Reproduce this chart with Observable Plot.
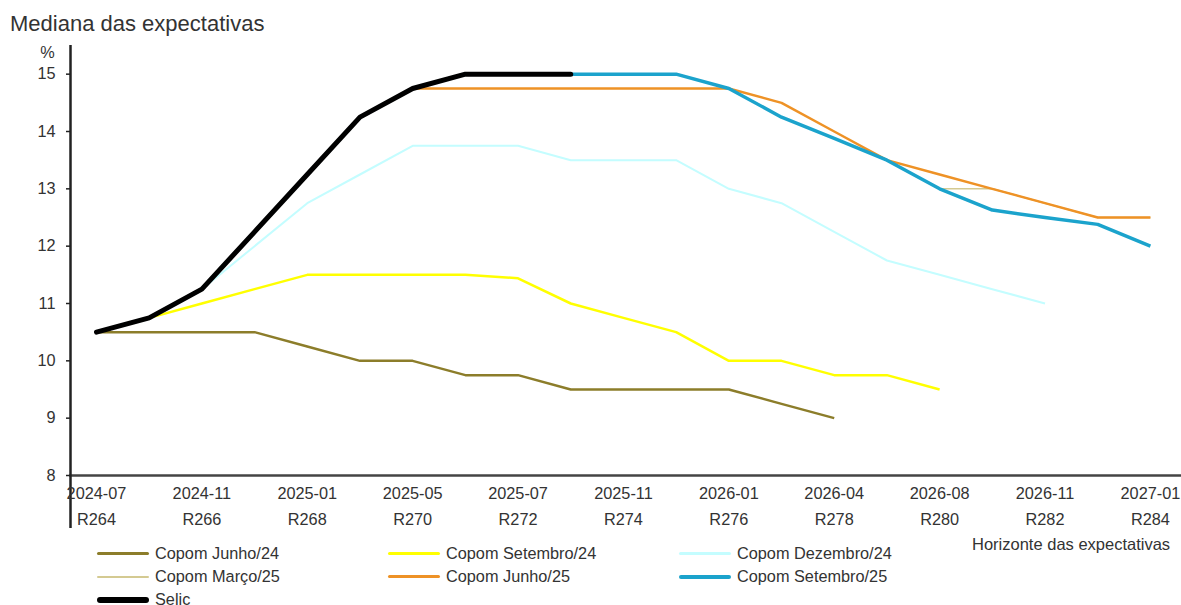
<!DOCTYPE html>
<html><head><meta charset="utf-8">
<script src="https://cdn.jsdelivr.net/npm/d3@7"></script>
<script src="https://cdn.jsdelivr.net/npm/@observablehq/plot@0.6"></script>
<style>
body{margin:0;background:#fff;font-family:"Liberation Sans",Arial,sans-serif;color:#333;}
#wrap{position:relative;width:1181px;height:605px;overflow:hidden;background:#fff;}
#title{position:absolute;left:10px;top:13px;font-size:22px;line-height:1;color:#333;}
#chart{position:absolute;left:0;top:40px;}
#xlabel{position:absolute;left:972px;top:535px;font-size:16.5px;line-height:1.2;color:#333;}
#legend{position:absolute;left:97px;top:542px;display:grid;grid-template-columns:repeat(3,291px);grid-auto-rows:23px;font-size:16.3px;color:#333;}
.item{display:flex;align-items:center;}
.sw{width:52px;margin-right:6px;flex:none;}
</style></head><body>
<div id="wrap">
<div id="title">Mediana das expectativas</div>
<div id="chart"></div>
<div id="xlabel">Horizonte das expectativas</div>
<div id="legend"></div>
</div>
<script>
// Copom meetings (x categories) and tick labels
const meetings = [264,265,266,267,268,269,270,271,272,273,274,275,276,277,278,279,280,281,282,283,284];
const tickMeetings = [264,266,268,270,272,274,276,278,280,282,284];
const tickDates = ["2024-07","2024-11","2025-01","2025-05","2025-07","2025-11","2026-01","2026-04","2026-08","2026-11","2027-01"];
const yTicks = [8,9,10,11,12,13,14,15];

// Series values (% a.a.), starting at R264
const junho24     = [10.5,10.5,10.5,10.5,10.25,10.0,10.0,9.75,9.75,9.5,9.5,9.5,9.5,9.25,9.0];
const setembro24  = [10.5,10.75,11.0,11.25,11.5,11.5,11.5,11.5,11.44,11.0,10.75,10.5,10.0,10.0,9.75,9.75,9.5];
const dezembro24  = [10.5,10.75,11.25,12.0,12.75,13.25,13.75,13.75,13.75,13.5,13.5,13.5,13.0,12.75,12.25,11.75,11.5,11.25,11.0];
const marco25     = [10.5,10.75,11.25,12.25,13.25,14.25,14.75,15,15,15,15,15,14.75,14.25,13.88,13.5,13.0,13.0,12.75,12.5,12.5];
const junho25     = [10.5,10.75,11.25,12.25,13.25,14.25,14.75,14.75,14.75,14.75,14.75,14.75,14.75,14.5,14.0,13.5,13.25,13.0,12.75,12.5,12.5];
const setembro25  = [10.5,10.75,11.25,12.25,13.25,14.25,14.75,15,15,15,15,15,14.75,14.25,13.88,13.5,13.0,12.63,12.5,12.38,12.0];
const selic       = [10.5,10.75,11.25,12.25,13.25,14.25,14.75,15,15,15];

const seriesNames  = ["Copom Junho/24","Copom Setembro/24","Copom Dezembro/24","Copom Março/25","Copom Junho/25","Copom Setembro/25","Selic"];
const seriesValues = [junho24,setembro24,dezembro24,marco25,junho25,setembro25,selic];
const seriesColors = ["#8C7D2A","#FFFF00","#C4FDFF","#D4CA92","#EE9226","#1BA3CC","#000000"];
const seriesWidths = [2.5,2.5,2,1.5,2.5,3.5,5];
const legendWidths = [3,3,3,2,3,4,6];

const xDomain = [263.507, 284.59];
const yDomain = [8, 15.5];

const lineMarks = seriesNames.map((name, k) => {
  const data = seriesValues[k].map((v, i) => ({series: name, meeting: meetings[i], value: v}));
  return Plot.line(data, {x: "meeting", y: "value", stroke: seriesColors[k], strokeWidth: seriesWidths[k], strokeLinejoin: "round", strokeLinecap: k === 6 ? "round" : "butt"});
});

const chart = Plot.plot({
  width: 1181, height: 495,
  marginLeft: 70, marginRight: 0, marginTop: 5, marginBottom: 60,
  x: {domain: xDomain},
  y: {domain: yDomain},
  style: {fontFamily: '"Liberation Sans", Arial, sans-serif', fontSize: "16.3px", color: "#333", background: "#fff", overflow: "visible"},
  marks: [
    ...lineMarks,
    Plot.frame({anchor: "bottom", stroke: "#444", strokeWidth: 2.5}),
    Plot.ruleX([xDomain[0]], {y1: yDomain[1], y2: yDomain[0], insetBottom: -53, stroke: "#222", strokeWidth: 2.5}),
    Plot.axisY({ticks: yTicks, tickSize: 4, tickPadding: 11, label: null, stroke: "#222", strokeWidth: 1.5}),
    Plot.axisX({ticks: tickMeetings, tickSize: 0, tickPadding: 12, label: null, tickFormat: d => tickDates[tickMeetings.indexOf(d)]}),
    Plot.axisX({ticks: tickMeetings, tickSize: 0, tickPadding: 38, label: null, tickFormat: d => "R" + d}),
    Plot.text(["%"], {frameAnchor: "top-left", dx: -23, dy: 7, textAnchor: "middle", lineAnchor: "middle", fill: "#333"})
  ]
});
document.getElementById("chart").appendChild(chart);

// legend
const legend = document.getElementById("legend");
seriesNames.forEach((name, k) => {
  const it = document.createElement("div");
  it.className = "item";
  const sw = document.createElement("span");
  sw.className = "sw";
  sw.style.height = legendWidths[k] + "px";
  sw.style.background = seriesColors[k];
  sw.style.borderRadius = (legendWidths[k] / 2) + "px";
  const tx = document.createElement("span");
  tx.textContent = name;
  it.appendChild(sw); it.appendChild(tx);
  legend.appendChild(it);
});
</script>
</body></html>
